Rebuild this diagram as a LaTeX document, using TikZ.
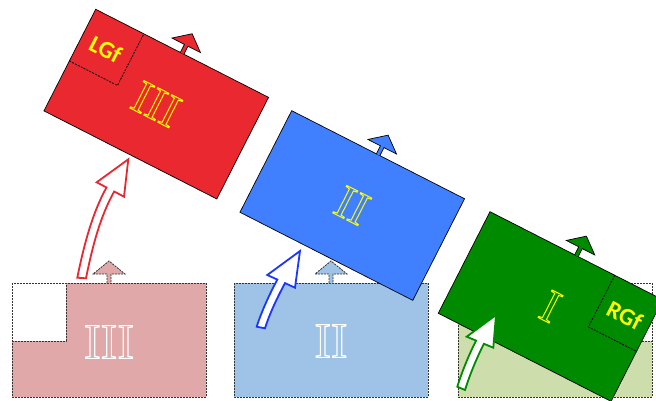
\documentclass[tikz,border=0pt]{standalone}
\usepackage{fontspec}
\setmainfont{Liberation Serif}
\newfontfamily\calib{Carlito}
\definecolor{redc}{RGB}{233,40,48}
\definecolor{bluec}{RGB}{64,128,255}
\definecolor{greenc}{RGB}{0,138,0}
\definecolor{pinkc}{RGB}{224,168,168}
\definecolor{lbluec}{RGB}{158,195,230}
\definecolor{lgreenc}{RGB}{205,221,172}
\definecolor{yelc}{RGB}{255,255,0}
\definecolor{arrred}{RGB}{232,40,48}
\definecolor{arrblue}{RGB}{25,55,255}
\definecolor{arrgreen}{RGB}{0,140,0}
\newcommand\outl[2]{\special{pdf:literal direct 1 Tr #1 w}#2\special{pdf:literal direct 0 Tr 0.4 w}}
\tikzset{
  dashbox/.style={draw=black!80, line width=0.8pt, dash pattern=on 2pt off 1pt},
  rbox/.style={draw=black, line width=0.7pt},
  notchline/.style={draw=black, line width=0.8pt, dash pattern=on 2pt off 1.2pt},
  numtext/.style={inner sep=0pt, font=\fontsize{50}{50}\selectfont},
  rnumtext/.style={inner sep=0pt, text=yelc, font=\fontsize{47}{47}\selectfont},
  gftext/.style={inner sep=0pt, text=yelc, font=\calib\bfseries\fontsize{24}{24}\selectfont},
  bigarrow/.style={draw=#1, fill=white, line width=1.8pt},
}
\begin{document}
\begin{tikzpicture}[x=1pt,y=-1pt]
\useasboundingbox (0,0) rectangle (656,401);
\clip (0,0) rectangle (656,401);
\fill[white] (0,0) rectangle (656,401);

% ---------- bottom boxes ----------
\begin{scope}[shift={(12,283)}]
  \fill[pinkc] (54,0) -- (194,0) -- (194,114) -- (0,114) -- (0,58) -- (54,58) -- cycle;
  \draw[dashbox] (0,0) rectangle (194,114);
  \draw[dashbox] (0,58) -- (54,58) -- (54,0);
  \draw[dashbox, fill=pinkc] (95,0) -- (95,-9) -- (81,-9) -- (97,-22) -- (113,-9) -- (99,-9) -- (99,0);
  \node[numtext, text=white] (b3) at (97,59) {\outl{1.2}{III}};
\end{scope}

\begin{scope}[shift={(234,283)}]
  \fill[lbluec] (0,0) rectangle (194,114);
  \draw[dashbox] (0,0) rectangle (194,114);
  \draw[dashbox, fill=lbluec] (95,0) -- (95,-9) -- (81,-9) -- (97,-22) -- (113,-9) -- (99,-9) -- (99,0);
  \node[numtext, text=white] (b2) at (97,58) {\outl{1.2}{II}};
\end{scope}

\begin{scope}[shift={(458,283)}]
  \fill[lgreenc] (0,0) -- (140,0) -- (140,58) -- (194,58) -- (194,114) -- (0,114) -- cycle;
  \draw[dashbox] (0,0) rectangle (194,114);
  \draw[dashbox] (140,0) -- (140,58) -- (194,58);
\end{scope}

% ---------- rotated boxes ----------
\begin{scope}[shift={(95.7,9.3)}, rotate=-27, transform shape]
  \fill[redc] (0,0) rectangle (194,114);
  \draw[rbox] (0,0) rectangle (194,114);
  \draw[notchline] (0,58) -- (54,58) -- (54,0);
  \draw[rbox, fill=redc] (95,0) -- (95,-9) -- (81,-9) -- (97,-22) -- (113,-9) -- (99,-9) -- (99,0);
  \node[gftext] (lgf) at (27,31) {LGf};
  \node[rnumtext] (r3) at (97,57) {\outl{1}{III}};
\end{scope}

\begin{scope}[shift={(291.7,110.7)}, rotate=-27, transform shape]
  \fill[bluec] (0,0) rectangle (194,114);
  \draw[rbox] (0,0) rectangle (194,114);
  \draw[rbox, fill=bluec] (95,0) -- (95,-9) -- (81,-9) -- (97,-22) -- (113,-9) -- (99,-9) -- (99,0);
  \node[rnumtext] (r2) at (97,57) {\outl{1}{II}};
\end{scope}

\begin{scope}[shift={(490,211.7)}, rotate=-27, transform shape]
  \fill[greenc] (0,0) rectangle (194,114);
  \draw[rbox] (0,0) rectangle (194,114);
  \draw[notchline] (140,0) -- (140,58) -- (194,58);
  \draw[rbox, fill=greenc] (95,0) -- (95,-9) -- (81,-9) -- (97,-22) -- (113,-9) -- (99,-9) -- (99,0);
  \node[gftext] (rgf) at (167,31) {RGf};
  \node[rnumtext] (r1) at (97,57) {\outl{1}{I}};
\end{scope}

% ---------- big curved arrows ----------
\draw[bigarrow=arrred] (77.3,277.7) .. controls (84,244.4) and (92.8,211.9) .. (106.5,187.5)
  -- (96.7,182.3) -- (128.3,159.3) -- (124,196.7) -- (114.2,191.5)
  .. controls (100.5,215.9) and (92.7,245) .. (86,278.3) -- cycle;

\draw[bigarrow=arrblue] (256.7,326.7) .. controls (261.5,311.4) and (269.8,293.7) .. (277.3,279.6)
  -- (267.3,275) -- (300,251) -- (295,287.7) -- (285,283.1)
  .. controls (277.5,297.2) and (269.8,313) .. (265,328.3) -- cycle;

\draw[bigarrow=arrgreen] (457.3,386.7) .. controls (462.1,371.4) and (468.9,354.8) .. (476.1,340.6)
  -- (466.7,336.7) -- (496,315) -- (493.3,347.7) -- (483.9,343.8)
  .. controls (476.7,358) and (469.8,374.7) .. (465,390) -- cycle;
\end{tikzpicture}
\end{document}
